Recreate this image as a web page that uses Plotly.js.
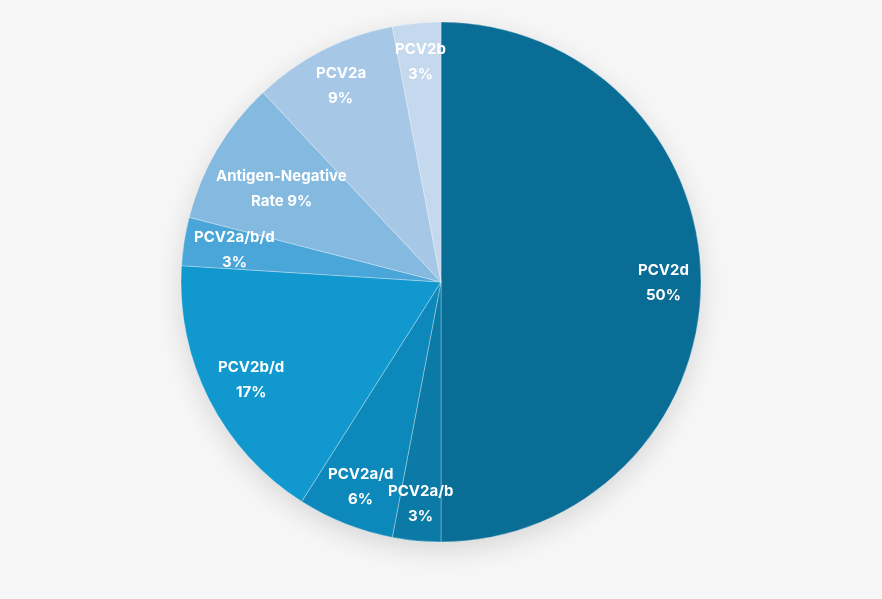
<!DOCTYPE html>
<html>
<head>
<meta charset="utf-8">
<script src="https://cdn.plot.ly/plotly-3.0.1.min.js"></script>
<style>
  html, body { margin: 0; padding: 0; background: #f7f7f7; }
  #chart { width: 882px; height: 599px; filter: drop-shadow(0 8px 14px rgba(0,0,0,0.13)); }
</style>
</head>
<body>
<div id="chart"></div>
<script>
const categories = ["PCV2d", "PCV2a/b", "PCV2a/d", "PCV2b/d", "PCV2a/b/d", "Antigen-Negative Rate", "PCV2a", "PCV2b"];
const shares = [50, 3, 6, 17, 3, 9, 9, 3];
const sliceColors = ["#0a6d96", "#0b7aa6", "#0d88ba", "#1199cf", "#4aa6d9", "#85bae0", "#a6c8e6", "#c4d9ee"];

// two text lines per slice
const labelLines = categories.map((c, i) =>
  c === "Antigen-Negative Rate"
    ? ["Antigen-Negative", "Rate " + shares[i] + "%"]
    : [c, shares[i] + "%"]
);

const W = 882, H = 599;
const M = { l: 0, r: 0, t: 22, b: 57 };
const plotW = W - M.l - M.r, plotH = H - M.t - M.b;
const R = Math.min(plotW, plotH) / 2;
const CX = M.l + plotW / 2, CY = M.t + plotH / 2;

const FONT_SIZE = 15;
const LINE_GAP = 25;
const ctx = document.createElement("canvas").getContext("2d");
ctx.font = "700 " + FONT_SIZE + "px Inter";

const total = shares.reduce((a, b) => a + b, 0);
const annotations = [];
let cum = 0;
shares.forEach((v, i) => {
  const mid = (cum + v / 2) / total * 2 * Math.PI; // clockwise from top
  cum += v;
  const w = Math.max(...labelLines[i].map(t => ctx.measureText(t).width));
  const halfH = LINE_GAP / 2 + 9;
  let r = 0.855 * R;
  const pad = 7;
  while (r > 0) {
    const cx = CX + r * Math.sin(mid), cy = CY - r * Math.cos(mid);
    const corners = [[cx - w / 2, cy - halfH], [cx + w / 2, cy - halfH], [cx - w / 2, cy + halfH], [cx + w / 2, cy + halfH]];
    const ok = corners.every(([x, y]) => Math.hypot(x - CX, y - CY) <= R - pad);
    if (ok) break;
    r -= 1;
  }
  const px = CX + r * Math.sin(mid), py = CY - r * Math.cos(mid);
  const ax = (px - M.l) / plotW;
  const ay = (M.t + plotH - py) / plotH;
  labelLines[i].forEach((t, k) => {
    annotations.push({
      xref: "paper", yref: "paper", x: ax, y: ay,
      text: t, showarrow: false, xanchor: "center", yanchor: "middle",
      yshift: k === 0 ? LINE_GAP / 2 : -LINE_GAP / 2,
      font: { family: "Inter, sans-serif", size: FONT_SIZE, color: "#ffffff", weight: 700 }
    });
  });
});

const trace = {
  type: "pie",
  labels: categories,
  values: shares,
  textinfo: "none",
  sort: false,
  direction: "clockwise",
  rotation: 0,
  hole: 0,
  marker: { colors: sliceColors, line: { color: "rgba(255,255,255,0.3)", width: 1 } },
  showlegend: false,
  hoverinfo: "label+percent"
};

const layout = {
  width: W,
  height: H,
  margin: M,
  paper_bgcolor: "rgba(0,0,0,0)",
  plot_bgcolor: "rgba(0,0,0,0)",
  font: { family: "Inter, sans-serif" },
  annotations: annotations,
  showlegend: false
};

Plotly.newPlot("chart", [trace], layout, { displayModeBar: false, staticPlot: true });
</script>
</body>
</html>
